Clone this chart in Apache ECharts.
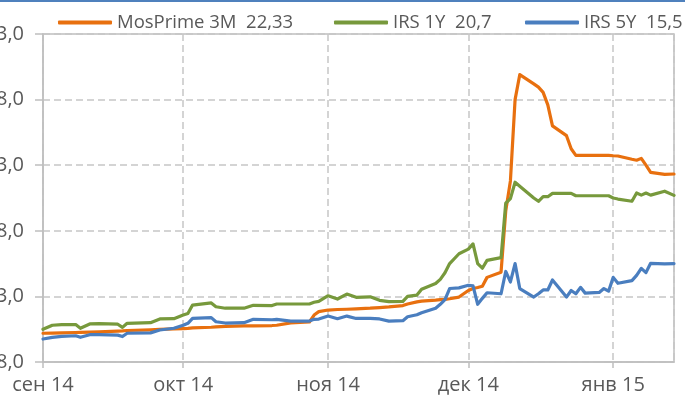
<!DOCTYPE html>
<html>
<head>
<meta charset="utf-8">
<script src="https://cdn.jsdelivr.net/npm/echarts@6/dist/echarts.min.js"></script>
<style>
  html, body { margin: 0; padding: 0; background: #fff; }
  #container { width: 685px; height: 406px; }
</style>
</head>
<body>
<div id="container"></div>
<script>
// dates of the observations
const dates = [
    '2014-09-01', '2014-09-03', '2014-09-05', '2014-09-08', '2014-09-09', '2014-09-11', '2014-09-13',
    '2014-09-17', '2014-09-18', '2014-09-19', '2014-09-24', '2014-09-26', '2014-09-29', '2014-10-01',
    '2014-10-02', '2014-10-03', '2014-10-07', '2014-10-08', '2014-10-10', '2014-10-14', '2014-10-16',
    '2014-10-20', '2014-10-21', '2014-10-24', '2014-10-28', '2014-10-29', '2014-10-30', '2014-11-01',
    '2014-11-03', '2014-11-05', '2014-11-07', '2014-11-10', '2014-11-12', '2014-11-14', '2014-11-17',
    '2014-11-18', '2014-11-20', '2014-11-21', '2014-11-24', '2014-11-25', '2014-11-26', '2014-11-27',
    '2014-11-29', '2014-12-01', '2014-12-02', '2014-12-03', '2014-12-04', '2014-12-05', '2014-12-08',
    '2014-12-09', '2014-12-10', '2014-12-11', '2014-12-12', '2014-12-15', '2014-12-16', '2014-12-17',
    '2014-12-18', '2014-12-19', '2014-12-22', '2014-12-23', '2014-12-24', '2014-12-25', '2014-12-26',
    '2014-12-29', '2014-12-30', '2014-12-31', '2015-01-01', '2015-01-02', '2015-01-05', '2015-01-06',
    '2015-01-07', '2015-01-08', '2015-01-09', '2015-01-12', '2015-01-14'
];

const mosprime3m = [
    10.19, 10.2, 10.22, 10.25, 10.26, 10.28, 10.3,
    10.35, 10.37, 10.4, 10.45, 10.48, 10.52, 10.55,
    10.57, 10.6, 10.65, 10.68, 10.72, 10.75, 10.76,
    10.78, 10.8, 10.98, 11.05, 11.58, 11.84, 11.96,
    12.0, 12.02, 12.05, 12.1, 12.15, 12.2, 12.3,
    12.42, 12.58, 12.64, 12.72, 12.76, 12.78, 12.82,
    12.95, 13.45, 13.6, 13.68, 13.78, 14.45, 14.85,
    19.5, 21.8, 28.0, 29.9, 29.2, 28.95, 28.55,
    27.6, 26.0, 25.25, 24.25, 23.75, 23.75, 23.75,
    23.75, 23.75, 23.75, 23.72, 23.7, 23.45, 23.38,
    23.52, 23.0, 22.45, 22.3, 22.33
];

const irs1y = [
    10.49, 10.8, 10.85, 10.85, 10.57, 10.9, 10.92,
    10.88, 10.64, 10.95, 11.0, 11.28, 11.3, 11.58,
    11.7, 12.34, 12.5, 12.21, 12.1, 12.1, 12.32,
    12.3, 12.42, 12.42, 12.42, 12.55, 12.62, 13.05,
    12.8, 13.18, 12.93, 12.97, 12.7, 12.6, 12.62,
    13.0, 13.1, 13.55, 13.98, 14.3, 14.8, 15.5,
    16.25, 16.6, 17.0, 15.5, 15.15, 15.75, 15.95,
    20.1, 20.45, 21.7, 21.4, 20.5, 20.25, 20.6,
    20.6, 20.85, 20.85, 20.85, 20.67, 20.67, 20.67,
    20.67, 20.67, 20.67, 20.5, 20.42, 20.25, 20.88,
    20.72, 20.88, 20.72, 21.02, 20.7
];

const irs5y = [
    9.75, 9.88, 9.95, 10.0, 9.88, 10.08, 10.08,
    10.05, 9.94, 10.19, 10.22, 10.44, 10.57, 10.8,
    10.95, 11.33, 11.38, 11.07, 10.97, 11.0, 11.25,
    11.22, 11.25, 11.12, 11.12, 11.25, 11.27, 11.5,
    11.3, 11.5, 11.32, 11.33, 11.28, 11.12, 11.15,
    11.45, 11.6, 11.75, 12.1, 12.4, 12.75, 13.6,
    13.65, 13.85, 13.8, 12.4, 12.85, 13.28, 13.2,
    14.9, 14.1, 15.5, 13.6, 12.95, 13.2, 13.49,
    13.49, 14.25, 12.95, 13.45, 13.2, 13.69, 13.25,
    13.3, 13.6, 13.4, 14.45, 14.0, 14.2, 14.6,
    15.14, 14.81, 15.52, 15.48, 15.5
];

const seriesNames = ['MosPrime 3M  22,33', 'IRS 1Y  20,7', 'IRS 5Y  15,5'];
const monthNames = ['янв', 'фев', 'мар', 'апр', 'май', 'июн', 'июл', 'авг', 'сен', 'окт', 'ноя', 'дек'];

let dom = document.getElementById('container');
let myChart = echarts.init(dom);

const FONT = '"Open Sans", sans-serif';
const TEXT_COLOR = '#595959';
const GRID_COLOR = '#c6c6c6';

function pairs(values) {
    return dates.map((d, i) => [d, values[i]]);
}

function legendAt(left, name) {
    return {
        data: [name],
        left: left,
        top: 8,
        icon: 'roundRect',
        itemWidth: 54,
        itemHeight: 4,
        itemGap: 0,
        textStyle: { color: TEXT_COLOR, fontFamily: FONT, fontSize: 18.5 }
    };
}

const option = {
    backgroundColor: '#fff',
    animation: false,
    color: ['#E8700F', '#77993C', '#4A7EBF'],
    graphic: [{
        type: 'rect',
        shape: { x: 0, y: 0, width: 685, height: 2 },
        style: { fill: '#4F81BD' }
    }],
    legend: [
        legendAt(53, seriesNames[0]),
        legendAt(329, seriesNames[1]),
        legendAt(520, seriesNames[2])
    ],
    grid: {
        left: 43,
        right: 11,
        top: 34,
        bottom: 44,
        containLabel: false,
        outerBoundsMode: 'none',
        show: true,
        borderColor: '#bfbfbf',
        borderWidth: 1.5
    },
    xAxis: {
        type: 'time',
        min: '2014-09-01',
        max: '2015-01-14',
        minInterval: 28 * 86400000,
        maxInterval: 31 * 86400000,
        axisLine: { lineStyle: { color: '#bfbfbf', width: 1.5 } },
        axisTick: { show: true, length: 6, lineStyle: { color: '#bfbfbf', width: 1.5 } },
        splitLine: { show: true, lineStyle: { color: GRID_COLOR, width: 1.5, type: [7, 4] } },
        axisLabel: {
            color: TEXT_COLOR,
            fontFamily: FONT,
            fontSize: 20,
            margin: 13,
            formatter: (v) => {
                let d = new Date(v);
                return monthNames[d.getMonth()] + ' ' + String(d.getFullYear()).slice(2);
            }
        }
    },
    yAxis: {
        type: 'value',
        min: 8,
        max: 33,
        interval: 5,
        axisLine: { show: true, lineStyle: { color: '#bfbfbf', width: 1.5 } },
        axisTick: { show: true, length: 8, lineStyle: { color: '#bfbfbf', width: 1.5 } },
        splitLine: { show: true, lineStyle: { color: GRID_COLOR, width: 1.5, type: [7, 4] } },
        axisLabel: {
            color: TEXT_COLOR,
            fontFamily: FONT,
            fontSize: 20,
            margin: 19,
            formatter: (v) => v.toFixed(1).replace('.', ',')
        }
    },
    series: [
        { name: seriesNames[0], type: 'line', data: pairs(mosprime3m) },
        { name: seriesNames[1], type: 'line', data: pairs(irs1y) },
        { name: seriesNames[2], type: 'line', data: pairs(irs5y) }
    ].map(s => Object.assign(s, {
        showSymbol: false,
        symbol: 'none',
        lineStyle: { width: 3.2, cap: 'round', join: 'round' }
    }))
};

myChart.setOption(option);
</script>
</body>
</html>
